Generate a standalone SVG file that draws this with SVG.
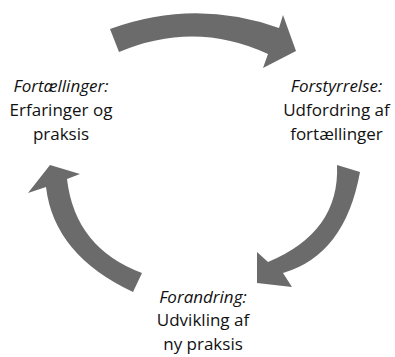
<svg xmlns="http://www.w3.org/2000/svg" width="395" height="357" viewBox="0 0 395 357">
<style>
.arrow{fill:#6b6b6b;stroke:none}
.lbl{font-family:"Open Sans","DejaVu Sans",sans-serif;font-size:17px;fill:#111;text-anchor:middle}
.it{font-style:italic}
</style>
<rect width="395" height="357" fill="#fff"/>
<g id="connectors">
<path id="arrow-top" class="arrow" d="M110,29 Q195,-2 279,28 L283,15 L296,51 L263,68 L268,54 Q195,20 119,52 Z"/>
<path id="arrow-right" class="arrow" d="M337,165 L360,172 Q345,255 283,273 L292,287 L257,283 L257,252 L268,262 Q340,232 337,165 Z"/>
<path id="arrow-left" class="arrow" d="M142,273 L133,292 Q54,255 46,187 L28,193 L50,165 L80,174 L67,179 Q75,248 142,273 Z"/>
</g>
<g id="node-fortaellinger">
<text class="lbl" x="61" y="92"><tspan class="it">Fortællinger:</tspan><tspan x="61" y="116">Erfaringer og</tspan><tspan x="61" y="140">praksis</tspan></text>
</g>
<g id="node-forstyrrelse">
<text class="lbl" x="336.5" y="92"><tspan class="it">Forstyrrelse:</tspan><tspan x="336.5" y="116">Udfordring af</tspan><tspan x="336.5" y="140">fortællinger</tspan></text>
</g>
<g id="node-forandring">
<text class="lbl" x="203" y="302.5"><tspan class="it">Forandring:</tspan><tspan x="203" y="326">Udvikling af</tspan><tspan x="203" y="349.5">ny praksis</tspan></text>
</g>
</svg>
